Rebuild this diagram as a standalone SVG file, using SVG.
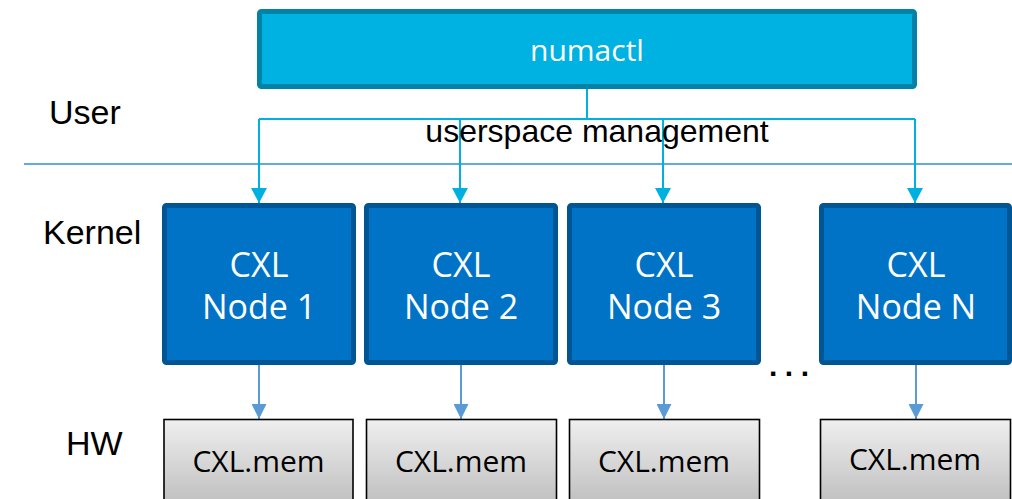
<svg xmlns="http://www.w3.org/2000/svg" width="1012" height="499" viewBox="0 0 1012 499">
<style>
.lbl{font-family:"Liberation Sans",Arial,sans-serif;font-size:34px;fill:#000}
.tool{fill:#00b2e2;stroke:#0083a6;stroke-width:5}
.node{fill:#0073c6;stroke:#005595;stroke-width:5}
.mem{fill:url(#gray);stroke:#000;stroke-width:1.6}
.wt{font-family:"Open Sans","Noto Sans",sans-serif;fill:#fff;text-anchor:middle}
.bt{font-family:"Open Sans","Noto Sans",sans-serif;fill:#000;text-anchor:middle;font-size:30px}
.c1{fill:none;stroke:#00b0e0;stroke-width:2}
.c2{fill:none;stroke:#5b9bd5;stroke-width:2}
</style>
<defs>
<linearGradient id="gray" x1="0" y1="0" x2="0" y2="1">
<stop offset="0" stop-color="#efefef"/>
<stop offset="1" stop-color="#bcbcbc"/>
</linearGradient>
<marker id="ha" markerWidth="15" markerHeight="16" refX="15" refY="8" orient="auto" markerUnits="userSpaceOnUse">
<path d="M0,0 L15,8 L0,16 Z" fill="#00b0e0"/>
</marker>
<marker id="hb" markerWidth="15" markerHeight="15" refX="15" refY="7.5" orient="auto" markerUnits="userSpaceOnUse">
<path d="M0,0 L15,7.5 L0,15 Z" fill="#5b9bd5"/>
</marker>
</defs>
<rect width="1012" height="499" fill="#fff"/>
<g id="labels">
<text class="lbl" x="49" y="124">User</text>
<text class="lbl" x="43" y="244">Kernel</text>
<text class="lbl" x="66" y="455">HW</text>
<line x1="24" y1="164" x2="1012" y2="164" stroke="#2f8bd6" stroke-width="1.6"/>
</g>
<g id="connectors">
<path class="c1" d="M587,89 V119 M259,119 H915"/>
<path class="c1" d="M259,119 V203" marker-end="url(#ha)"/>
<path class="c1" d="M460,119 V203" marker-end="url(#ha)"/>
<path class="c1" d="M663,119 V203" marker-end="url(#ha)"/>
<path class="c1" d="M915,119 V203" marker-end="url(#ha)"/>
<path class="c2" d="M259,365 V419" marker-end="url(#hb)"/>
<path class="c2" d="M461,365 V419" marker-end="url(#hb)"/>
<path class="c2" d="M664,365 V419" marker-end="url(#hb)"/>
<path class="c2" d="M916,365 V419" marker-end="url(#hb)"/>
</g>
<g id="numactl">
<rect class="tool" x="259.5" y="11.5" width="655" height="75" rx="2"/>
<text class="wt" x="587" y="61" font-size="30">numactl</text>
</g>
<text id="mgmt" x="597" y="142" font-family="'Liberation Sans',Arial,sans-serif" font-size="32" text-anchor="middle" fill="#000">userspace management</text>
<g id="node1">
<rect class="node" x="164.5" y="205.5" width="189" height="157" rx="2"/>
<text class="wt" font-size="34" x="259" y="277">CXL</text>
<text class="wt" font-size="34" x="259" y="319">Node 1</text>
</g>
<g id="node2">
<rect class="node" x="366.5" y="205.5" width="189" height="157" rx="2"/>
<text class="wt" font-size="34" x="461" y="277">CXL</text>
<text class="wt" font-size="34" x="461" y="319">Node 2</text>
</g>
<g id="node3">
<rect class="node" x="569.5" y="205.5" width="189" height="157" rx="2"/>
<text class="wt" font-size="34" x="664" y="277">CXL</text>
<text class="wt" font-size="34" x="664" y="319">Node 3</text>
</g>
<g id="nodeN">
<rect class="node" x="821.5" y="205.5" width="188" height="157" rx="2"/>
<text class="wt" font-size="34" x="916" y="277">CXL</text>
<text class="wt" font-size="34" x="916" y="319">Node N</text>
</g>
<text id="ellipsis" x="769" y="376" font-family="'Liberation Sans',Arial,sans-serif" font-weight="bold" font-size="30" letter-spacing="7.5" fill="#000">...</text>
<g id="mem1">
<rect class="mem" x="164" y="419.5" width="189" height="90"/>
<text class="bt" x="258.5" y="472">CXL.mem</text>
</g>
<g id="mem2">
<rect class="mem" x="366.5" y="419.5" width="190" height="90"/>
<text class="bt" x="461" y="472">CXL.mem</text>
</g>
<g id="mem3">
<rect class="mem" x="569.5" y="419.5" width="190" height="90"/>
<text class="bt" x="664" y="472">CXL.mem</text>
</g>
<g id="mem4">
<rect class="mem" x="820.5" y="419.5" width="190" height="90"/>
<text class="bt" x="915" y="470">CXL.mem</text>
</g>
</svg>
